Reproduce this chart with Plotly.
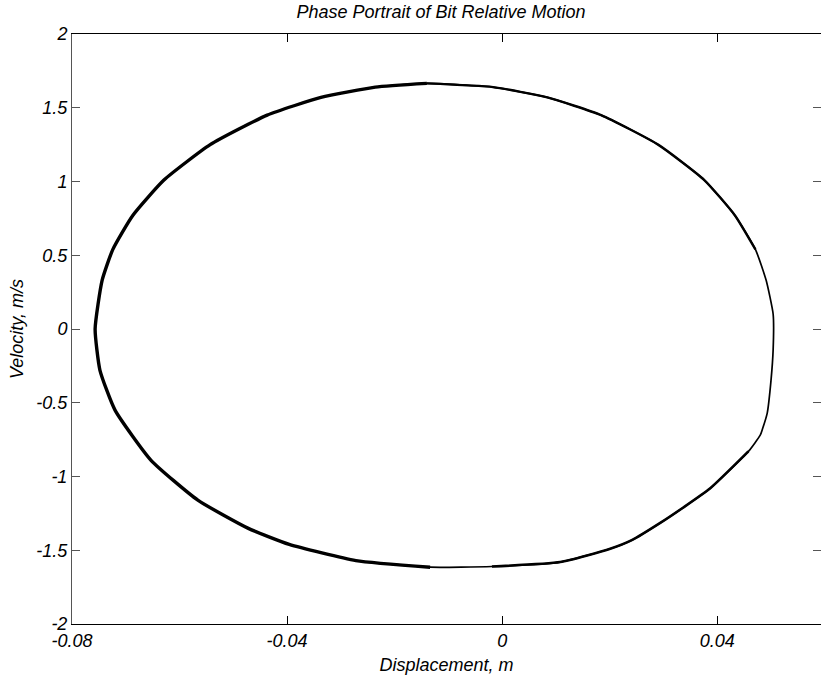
import plotly.graph_objects as go

# Phase portrait data (clockwise from leftmost point)
displacement = [-0.0757, -0.0744, -0.0724, -0.0687, -0.0629, -0.0543, -0.0437, -0.0337,
                -0.0236, -0.0140, -0.0017, 0.0084, 0.0184, 0.0290, 0.0376, 0.0433,
                0.0471, 0.0491, 0.0504, 0.0504, 0.0500, 0.0493, 0.0484, 0.0480,
                0.0458, 0.0387, 0.0337, 0.0294, 0.0242, 0.0201, 0.0108, -0.0019,
                -0.0134, -0.0272, -0.0396, -0.0473, -0.0566, -0.0653, -0.0720, -0.0748,
                -0.0757]
velocity = [0.00, 0.33, 0.54, 0.77, 1.01, 1.25, 1.45, 1.57,
            1.64, 1.665, 1.64, 1.57, 1.45, 1.25, 1.01, 0.77,
            0.54, 0.33, 0.10, -0.14, -0.35, -0.57, -0.68, -0.72,
            -0.83, -1.08, -1.21, -1.315, -1.43, -1.49, -1.58, -1.61,
            -1.615, -1.57, -1.46, -1.35, -1.16, -0.89, -0.55, -0.28,
            0.00]

x_ticks = [-0.08, -0.04, 0, 0.04]
x_tick_labels = ["-0.08", "-0.04", "0", "0.04"]
y_ticks = [-2, -1.5, -1, -0.5, 0, 0.5, 1, 1.5, 2]
y_tick_labels = ["-2", "-1.5", "-1", "-0.5", "0", "0.5", "1", "1.5", "2"]

title_text = "Phase Portrait of Bit Relative Motion"
x_title = "Displacement, m"
y_title = "Velocity, m/s"

FONT = "Liberation Sans, Arial, sans-serif"
XR = [-0.08, 0.0593]
YR = [-2, 2]


def seg(idx, width):
    return go.Scatter(x=[displacement[i] for i in idx], y=[velocity[i] for i in idx],
                      mode="lines",
                      line=dict(color="black", width=width, shape="spline", smoothing=0.5),
                      showlegend=False, hoverinfo="skip")


fig = go.Figure()
n = len(displacement)
fig.add_trace(seg(range(n), 1.7))
# overlapping cycles make some arcs look heavier
fig.add_trace(seg(list(range(32, n)) + list(range(1, 10)), 3.4))   # left half
fig.add_trace(seg(range(9, 17), 2.4))                               # upper right arc
fig.add_trace(seg(range(24, 32), 2.6))                              # lower right arc

fig.update_layout(
    width=821, height=686,
    margin=dict(l=72, r=0, t=34, b=62),
    paper_bgcolor="white", plot_bgcolor="white",
    font=dict(family=FONT, color="black", size=18),
    title=dict(text=f"<i>{title_text}</i>", x=441 / 821, xanchor="center",
               y=1 - 12 / 686, yanchor="middle", font=dict(size=18)),
    xaxis=dict(range=XR, tickvals=x_ticks, ticktext=[f"<i>{t}</i>" for t in x_tick_labels],
               ticks="inside", ticklen=8, tickcolor="black", showline=True,
               linecolor="black", linewidth=1, showgrid=False, zeroline=False,
               tickfont=dict(size=18),
               title=dict(text=f"<i>{x_title}</i>", standoff=8, font=dict(size=18))),
    yaxis=dict(range=YR, tickvals=y_ticks, ticktext=[f"<i>{t}</i>" for t in y_tick_labels],
               ticks="inside", ticklen=8, tickcolor="#555", showline=True,
               linecolor="#555", linewidth=1, showgrid=False, zeroline=False,
               tickfont=dict(size=18),
               title=dict(text=f"<i>{y_title}</i>", standoff=8, font=dict(size=18))),
    xaxis2=dict(range=XR, overlaying="x", side="top", matches="x", tickvals=x_ticks,
                showticklabels=False, ticks="inside", ticklen=8, tickcolor="black",
                showline=True, linecolor="black", linewidth=1, showgrid=False, zeroline=False),
    yaxis2=dict(range=YR, overlaying="y", side="right", matches="y", tickvals=y_ticks,
                showticklabels=False, ticks="inside", ticklen=8, tickcolor="#555",
                showline=False, showgrid=False, zeroline=False),
)
# invisible trace to anchor secondary axes
fig.add_trace(go.Scatter(x=[XR[0]], y=[YR[0]], xaxis="x2", yaxis="y2", mode="markers",
                         marker=dict(opacity=0), showlegend=False, hoverinfo="skip"))

fig.write_html("out.html")
